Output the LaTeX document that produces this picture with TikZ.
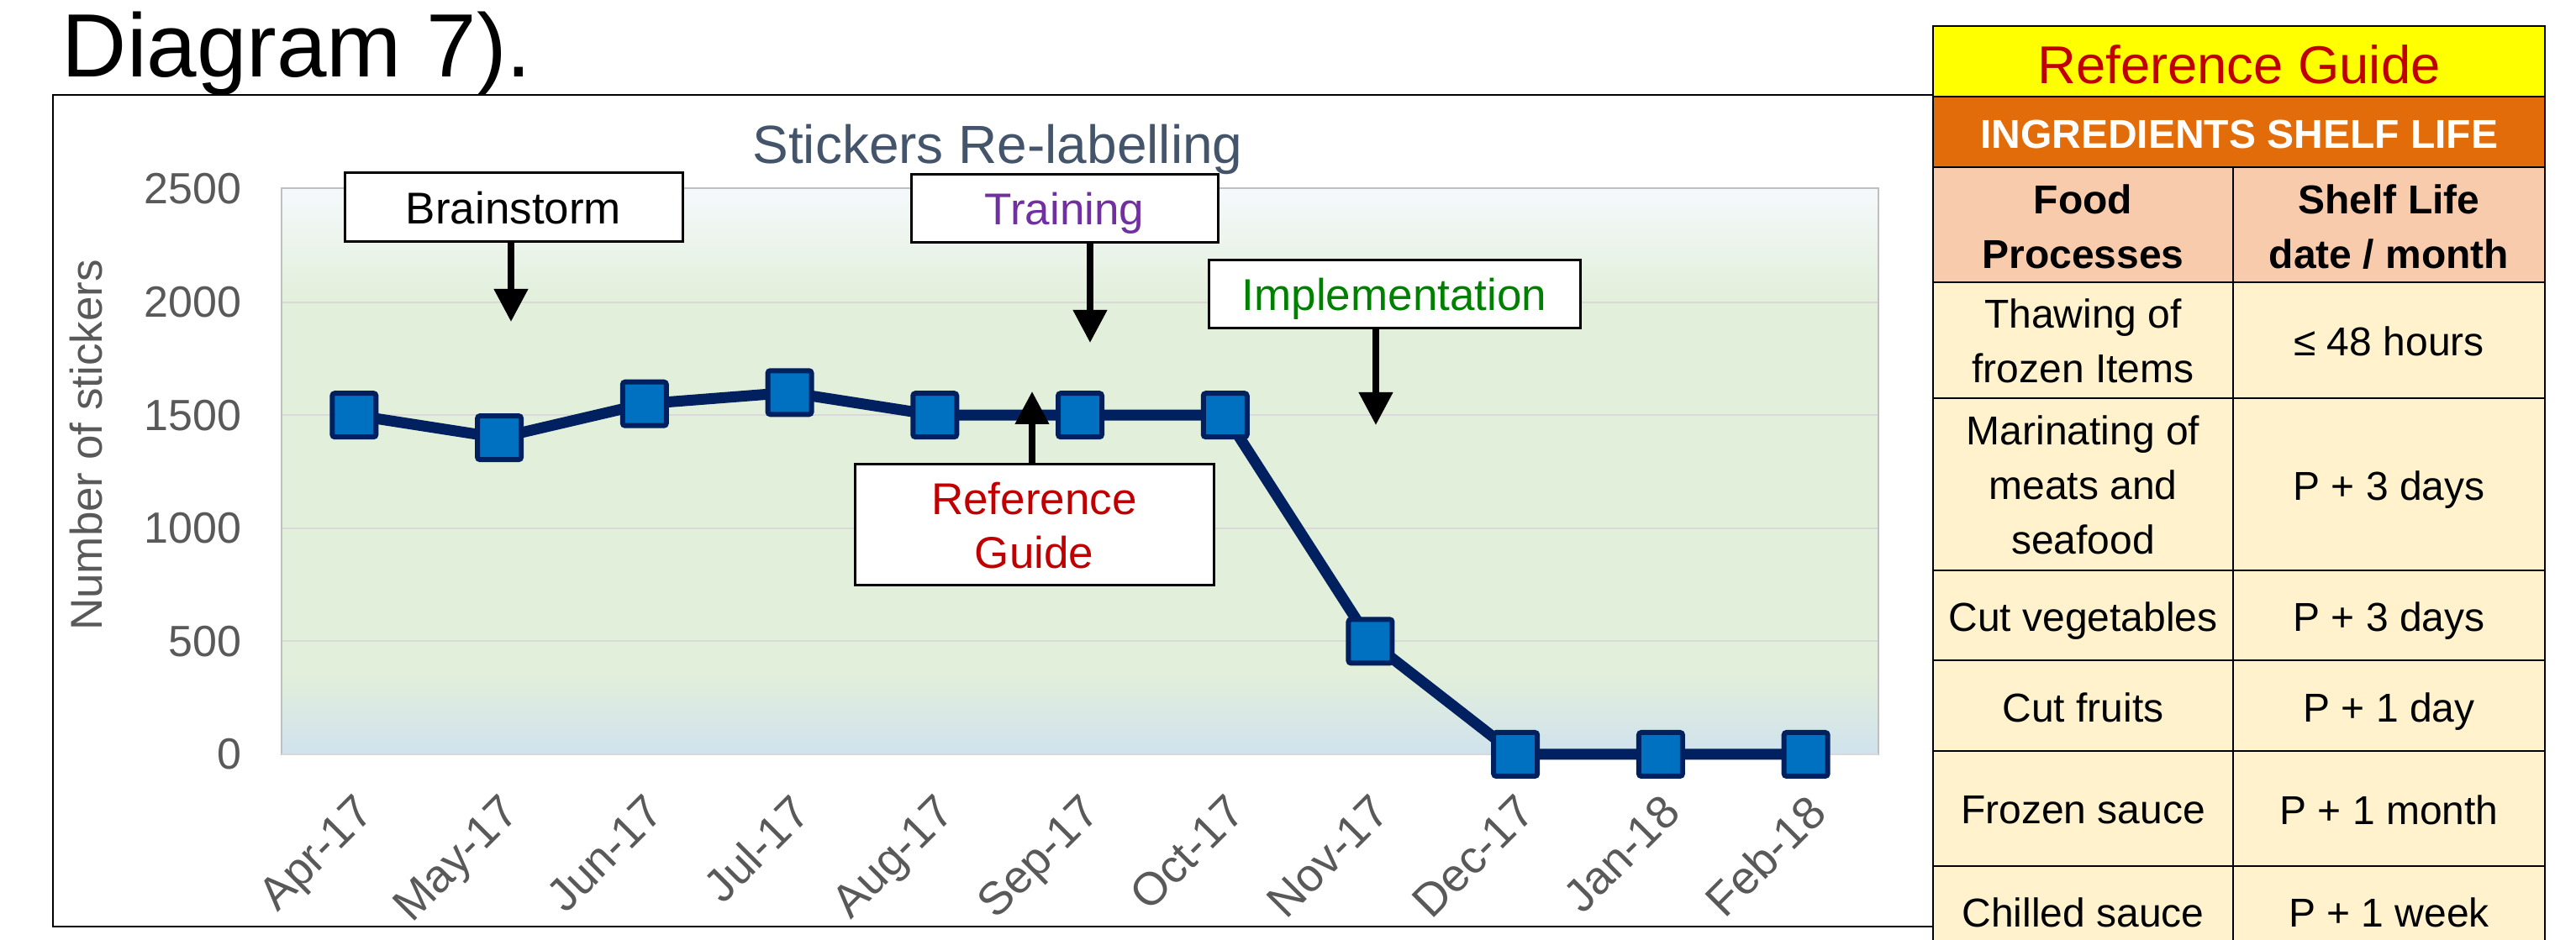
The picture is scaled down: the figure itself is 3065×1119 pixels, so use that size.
\documentclass[tikz,border=0pt]{standalone}
\usepackage{fontspec}
\setmainfont{Liberation Sans}
\usetikzlibrary{arrows.meta}
\definecolor{navy}{RGB}{0,32,96}
\definecolor{mblue}{RGB}{0,112,192}
\definecolor{axgray}{RGB}{89,89,89}
\definecolor{titlegray}{RGB}{68,84,106}
\definecolor{gridgray}{RGB}{217,217,217}
\definecolor{plotborder}{RGB}{191,191,191}
\definecolor{bgtop}{RGB}{245,249,252}
\definecolor{bggreen}{RGB}{226,239,218}
\definecolor{bgblue}{RGB}{208,226,238}
\definecolor{purpletxt}{RGB}{112,48,160}
\definecolor{greentxt}{RGB}{0,128,0}
\definecolor{redtxt}{RGB}{192,0,0}
\definecolor{tyellow}{RGB}{255,255,0}
\definecolor{torange}{RGB}{227,108,10}
\definecolor{tpeach}{RGB}{248,203,173}
\definecolor{tcream}{RGB}{255,242,204}
\begin{document}
\begin{tikzpicture}[x=0.25pt,y=-0.25pt,
  annot/.style={draw=black,line width=0.75pt,fill=white,inner sep=0pt,align=center,text depth=0pt,
    font=\fontsize{13.25}{16}\selectfont},
  callarrow/.style={line width=1.9pt,-{Triangle[width=9.75pt,length=9.75pt]}},
  marker/.style={draw=navy,fill=mblue,line width=1.5pt,minimum size=13pt,inner sep=0pt,rounded corners=0.75pt},
  dataline/.style={draw=navy,line width=3.25pt,line join=round},
  gridline/.style={draw=gridgray,line width=0.5pt},
  ytick/.style={anchor=east,inner sep=0pt,text=axgray,font=\fontsize{13}{15.6}\selectfont},
  xtick/.style={anchor=north east,rotate=45,inner sep=0pt,text=axgray,font=\fontsize{13.75}{16.5}\selectfont},
  cell/.style={align=center,inner sep=0pt,text depth=0pt,font=\fontsize{12}{16.25}\selectfont},
  hcell/.style={cell,font=\fontsize{12}{16.25}\selectfont\bfseries},
  tline/.style={draw=black,line width=0.7pt}
]
\useasboundingbox (0,0) rectangle (3065,1119);
\clip (0,0) rectangle (3065,1119);
\fill[white] (0,0) rectangle (3065,1119);

% chart frame
\draw[line width=0.6pt] (63,113) rectangle (2300,1103);
\node[anchor=base west,inner sep=0pt,font=\fontsize{26.75}{32}\selectfont] (intro) at (73,92) {Diagram 7).};

% plot background
\shade[top color=bgtop,bottom color=bggreen] (335,224) rectangle (2235,361);
\fill[bggreen] (335,360) rectangle (2235,801);
\shade[top color=bggreen,bottom color=bgblue] (335,800) rectangle (2235,898);

% gridlines and y ticks
\foreach \g in {500,1000,1500,2000}
  \draw[gridline] (335,{898-0.2692*\g}) -- (2235,{898-0.2692*\g});
\draw[plotborder,line width=0.5pt] (335,224) rectangle (2235,898);
\draw[gridgray,line width=0.6pt] (335,898) -- (2235,898);
\foreach \g in {0,500,1000,1500,2000,2500}
  \node[ytick] (y\g) at (288,{898-0.2692*\g}) {\g};

% titles
\node[anchor=base,inner sep=0pt,text=titlegray,font=\fontsize{16}{19}\selectfont] (title) at (1187,195) {Stickers Re-labelling};
\node[rotate=90,inner sep=0pt,text=axgray,font=\fontsize{13.25}{16}\selectfont] (ytitle) at (103,530) {Number of stickers};

% x labels
\foreach \lab [count=\i] in {Apr-17,May-17,Jun-17,Jul-17,Aug-17,Sep-17,Oct-17,Nov-17,Dec-17,Jan-18,Feb-18}
  \node[xtick] (x\i) at ({335+172.73*(\i-0.5)-1},942) {\lab};

% data
\foreach \v [count=\i] in {1500,1400,1550,1600,1500,1500,1500,500,0,0,0}
  \coordinate (p\i) at ({335+172.73*(\i-0.5)},{898-0.2692*\v});
\draw[dataline] (p1) \foreach \i in {2,...,11}{ -- (p\i)};
\foreach \i in {1,...,11}
  \node[marker] (m\i) at (p\i) {};

% annotations
\node[annot,minimum width=100.5pt,minimum height=20.5pt] (brain) at (611,247) {Brainstorm};
\node[annot,minimum width=91.25pt,minimum height=20.25pt,text=purpletxt] (train) at (1266.5,248.5) {Training};
\node[annot,minimum width=110.5pt,minimum height=20.25pt,text=greentxt] (impl) at (1659,350.5) {Implementation};
\node[annot,minimum width=106.75pt,minimum height=36pt,text=redtxt] (refg) at (1230.5,625) {Reference\\Guide};

\coordinate (t1) at (608,383);
\coordinate (t2) at (1297,408);
\coordinate (t3) at (1637,506);
\coordinate (t4) at (1228,466);
\draw[callarrow] (brain.south -| t1) -- (t1);
\draw[callarrow] (train.south -| t2) -- (t2);
\draw[callarrow] (impl.south -| t3) -- (t3);
\draw[callarrow] (refg.north -| t4) -- (t4);

% table
\fill[tyellow] (2300,31) rectangle (3028,115);
\fill[torange] (2300,115) rectangle (3028,199);
\fill[tpeach] (2300,199) rectangle (3028,336);
\fill[tcream] (2300,336) rectangle (3028,1160);
\draw[tline] (2300,1160) -- (2300,31) -- (3028,31) -- (3028,1160);
\foreach \yy in {115,199,336,474,679,786,894,1031}
  \draw[tline] (2300,\yy) -- (3028,\yy);
\draw[tline] (2657,199) -- (2657,1160);

\node[cell,text=redtxt,font=\fontsize{15.85}{19}\selectfont] (tt) at (2664,77) {Reference Guide};
\node[hcell,text=white] (th) at (2664,160) {INGREDIENTS SHELF LIFE};
\node[hcell] (h1) at (2478.5,269.5) {Food\\Processes};
\node[hcell] (h2) at (2842.5,269.5) {Shelf Life\\date / month};
\node[cell] (a1) at (2478.5,406) {Thawing of\\frozen Items};
\node[cell] (b1) at (2842.5,406) {≤ 48 hours};
\node[cell] (a2) at (2478.5,577) {Marinating of\\meats and\\seafood};
\node[cell] (b2) at (2842.5,578) {P + 3 days};
\node[cell] (a3) at (2478.5,734) {Cut vegetables};
\node[cell] (b3) at (2842.5,734) {P + 3 days};
\node[cell] (a4) at (2478.5,842) {Cut fruits};
\node[cell] (b4) at (2842.5,842) {P + 1 day};
\node[cell] (a5) at (2478.5,964) {Frozen sauce};
\node[cell] (b5) at (2842.5,964) {P + 1 month};
\node[cell] (a6) at (2478.5,1086) {Chilled sauce};
\node[cell] (b6) at (2842.5,1086) {P + 1 week};
\end{tikzpicture}
\end{document}
